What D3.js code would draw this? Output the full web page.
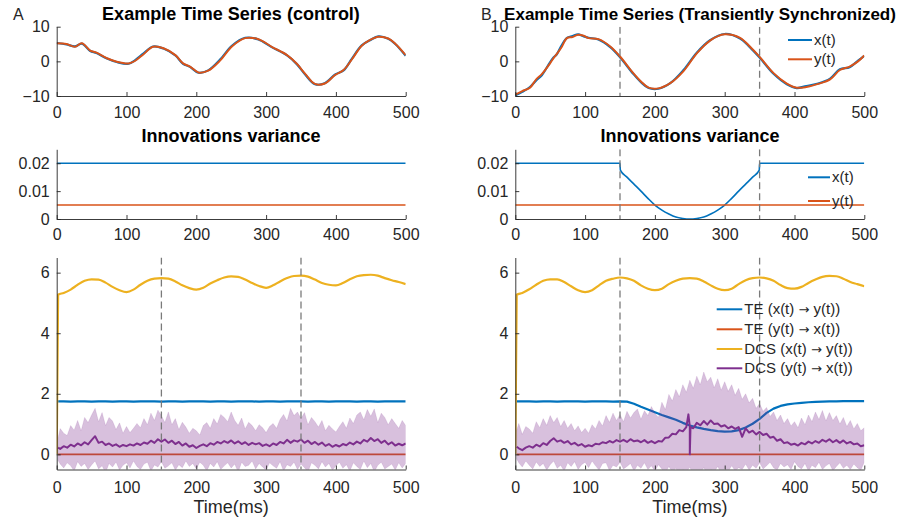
<!DOCTYPE html>
<html>
<head>
<meta charset="utf-8">
<script src="https://cdn.jsdelivr.net/npm/d3@7"></script>
<style>
body { margin: 0; background: #fff; }
</style>
</head>
<body>
<div id="container"></div>
<script>
// ---------- data ----------
var tickT = [0, 100, 200, 300, 400, 500];
var markT = [150, 350];          // start / end of the transient window
var colors = ['#0072BD', '#D95319', '#EDB120', '#7E2F8E'];

// A: example time series (control)
var tA = [0,14,26,36,48,57,72,86,103,112,124,138,153,170,181,191,203,217,234,251,270,289,308,330,344,356,370,384,399,411,423,437,449,461,475,485,500];
var xA = [5.3,4.9,4.3,5.1,3.0,2.4,0.8,-0.2,-0.7,0.3,2.2,4.3,3.7,1.7,-0.7,-1.6,-3.3,-2.6,0.5,4.5,6.8,6.3,4.1,1.7,-0.8,-3.8,-6.6,-6.3,-3.8,-2.6,0.8,4.6,6.1,7.2,6.5,5.0,1.6];
var yA = [5.2,5.0,4.2,5.2,3.1,2.5,0.9,-0.1,-0.6,0.1,2.0,4.2,3.8,1.8,-0.6,-1.5,-3.2,-2.7,0.2,4.3,6.7,6.4,4.2,1.8,-0.7,-3.6,-6.5,-6.4,-3.9,-2.5,0.6,4.5,6.2,7.1,6.6,5.1,1.8];

// B: example time series (transiently synchronized)
var tB = [0,10,21,30,38,50,55,59,66,74,82,90,98,105,119,136,150,169,180,191,205,222,241,260,279,300,322,336,350,370,389,403,417,434,451,465,479,491,500];
var xB = [-9.8,-8.8,-7.4,-5.5,-4.0,-0.2,1.2,1.9,4.5,6.8,7.3,7.8,7.2,6.8,6.3,4.1,1.2,-3.6,-6.0,-7.7,-7.9,-6.3,-2.5,2.5,6.1,7.9,6.6,4.1,1.1,-3.6,-6.6,-7.7,-7.1,-6.4,-5.0,-2.3,-1.7,0.2,1.6];
var yB = [-9.6,-8.6,-7.6,-5.2,-3.7,-0.5,1.0,2.0,4.0,6.7,7.0,7.7,7.4,6.7,6.4,4.3,1.4,-3.4,-5.8,-7.6,-7.8,-6.3,-2.8,2.3,6.0,7.8,6.8,4.3,1.3,-3.4,-6.4,-7.6,-7.4,-6.5,-5.2,-2.5,-1.5,0.0,1.7];

// innovations variance
var tVar = [0, 500];
var varXA = [0.02, 0.02];
var varY = [0.005, 0.005];
var tVarB = [0,150,150.5,160,170,180,190,200,210,220,230,240,250,260,270,280,290,300,310,320,330,340,349.5,350,500];
var varXB = [0.02,0.02,0.0175,0.0150,0.0125,0.0100,0.0074,0.0050,0.0032,0.0018,0.0007,0.0002,0,0.0002,0.0007,0.0018,0.0032,0.0050,0.0074,0.0100,0.0125,0.0150,0.0175,0.02,0.02];

// causality measures
var t10 = [2].concat(d3.range(10, 501, 10));
var tDcs = [0].concat(t10);
var t5 = [2].concat(d3.range(5, 501, 5));
var tTE0 = [2, 500];
var teYX = [0, 0];

var teXYA = [1.75,1.75,1.74,1.75,1.75,1.74,1.75,1.75,1.74,1.75,1.75,1.74,1.75,1.75,1.75,1.74,1.75,1.75,1.74,1.75,1.75,1.75,1.74,1.75,1.75,1.74,1.75,1.75,1.75,1.74,1.75,1.75,1.74,1.75,1.75,1.75,1.74,1.75,1.75,1.74,1.75,1.75,1.75,1.74,1.75,1.75,1.74,1.75,1.75,1.75,1.75];
var teXYB = [1.75,1.75,1.75,1.74,1.75,1.75,1.74,1.75,1.75,1.75,1.74,1.75,1.75,1.75,1.74,1.75,1.74,1.67,1.57,1.48,1.39,1.30,1.22,1.14,1.04,0.95,0.89,0.84,0.80,0.77,0.75,0.76,0.80,0.89,1.01,1.17,1.37,1.51,1.60,1.65,1.68,1.70,1.72,1.73,1.74,1.75,1.75,1.76,1.76,1.76,1.76];

var dcsXYA = [0,5.27,5.33,5.44,5.60,5.73,5.78,5.77,5.67,5.53,5.42,5.36,5.44,5.60,5.73,5.80,5.82,5.80,5.71,5.58,5.49,5.44,5.50,5.64,5.75,5.84,5.88,5.86,5.77,5.66,5.56,5.50,5.58,5.71,5.82,5.89,5.90,5.87,5.77,5.66,5.60,5.58,5.66,5.78,5.88,5.92,5.93,5.90,5.82,5.75,5.69,5.62];
var dcsXYB = [0,5.27,5.33,5.45,5.60,5.73,5.78,5.78,5.69,5.55,5.42,5.36,5.42,5.58,5.73,5.80,5.84,5.81,5.73,5.58,5.47,5.42,5.47,5.62,5.73,5.80,5.82,5.80,5.71,5.58,5.47,5.42,5.47,5.62,5.75,5.82,5.84,5.81,5.73,5.59,5.49,5.47,5.53,5.66,5.77,5.86,5.89,5.88,5.80,5.69,5.62,5.55];

var dcsYXA = [0.22,0.18,0.27,0.22,0.32,0.26,0.36,0.30,0.40,0.33,
  0.47,0.60,0.38,0.42,0.31,0.36,0.28,0.33,0.25,0.31,
  0.27,0.33,0.29,0.36,0.31,0.39,0.35,0.45,0.38,0.50,
  0.42,0.49,0.38,0.45,0.34,0.41,0.29,0.36,0.25,0.30,
  0.21,0.28,0.33,0.27,0.37,0.32,0.41,0.36,0.44,0.38,
  0.46,0.36,0.43,0.34,0.40,0.31,0.38,0.33,0.37,0.28,
  0.33,0.27,0.36,0.31,0.41,0.36,0.48,0.38,0.46,0.42,
  0.49,0.38,0.45,0.34,0.41,0.32,0.39,0.28,0.34,0.25,
  0.31,0.26,0.34,0.30,0.39,0.33,0.42,0.36,0.48,0.42,
  0.54,0.44,0.50,0.38,0.45,0.33,0.40,0.29,0.35,0.30,
  0.36];
var bandHiA = [0.55,0.85,0.70,0.62,0.95,0.80,1.12,0.78,1.22,1.05,
  1.30,1.52,1.08,1.38,0.95,1.22,1.10,0.82,1.04,0.70,
  0.92,0.72,0.86,1.02,0.88,1.18,0.98,1.36,1.12,1.46,
  1.28,1.05,1.40,0.98,1.18,0.82,1.06,0.90,0.70,0.86,
  0.78,0.64,0.95,1.05,0.86,1.18,1.00,1.32,1.22,1.08,
  1.40,1.12,0.96,1.20,0.84,1.06,0.95,0.78,0.98,0.88,
  0.72,0.92,1.02,0.86,1.15,1.32,1.10,1.52,1.28,1.40,
  1.18,1.38,0.98,1.22,1.08,0.90,1.12,0.78,0.96,0.84,
  0.74,0.92,1.08,0.86,1.20,1.02,1.30,1.40,1.14,1.48,
  1.26,1.50,1.05,1.36,1.22,0.98,1.18,1.02,0.86,1.12,
  0.95];
var bandLoA = [-0.20,-0.32,-0.45,-0.28,-0.38,-0.55,-0.24,-0.40,-0.30,-0.50,
  -0.35,-0.22,-0.48,-0.38,-0.60,-0.30,-0.42,-0.25,-0.52,-0.36,
  -0.28,-0.45,-0.22,-0.40,-0.50,-0.32,-0.26,-0.55,-0.35,-0.42,
  -0.24,-0.46,-0.38,-0.28,-0.52,-0.34,-0.44,-0.22,-0.40,-0.30,
  -0.48,-0.26,-0.36,-0.55,-0.30,-0.42,-0.24,-0.50,-0.38,-0.28,
  -0.45,-0.32,-0.58,-0.26,-0.40,-0.36,-0.22,-0.48,-0.30,-0.42,
  -0.52,-0.28,-0.38,-0.46,-0.24,-0.55,-0.34,-0.40,-0.26,-0.50,
  -0.32,-0.44,-0.58,-0.28,-0.36,-0.48,-0.24,-0.42,-0.30,-0.52,
  -0.38,-0.26,-0.46,-0.34,-0.55,-0.28,-0.40,-0.50,-0.22,-0.44,
  -0.30,-0.58,-0.36,-0.26,-0.48,-0.40,-0.32,-0.52,-0.28,-0.45,
  -0.30];

var dcsYXB = [0.25,0.20,0.14,0.22,0.27,0.22,0.32,0.26,0.37,0.31,
  0.44,0.53,0.42,0.46,0.38,0.44,0.33,0.38,0.29,0.34,
  0.25,0.30,0.27,0.35,0.33,0.40,0.37,0.44,0.39,0.47,
  0.42,0.48,0.41,0.50,0.43,0.46,0.40,0.47,0.38,0.44,
  0.37,0.44,0.42,0.55,0.56,0.68,0.66,0.80,0.76,0.90,
  0.92,0.86,1.04,0.96,1.10,0.98,1.12,1.00,1.02,0.92,
  0.96,0.86,0.92,0.84,0.90,0.58,0.86,0.72,0.78,0.66,
  0.74,0.64,0.68,0.55,0.58,0.45,0.50,0.37,0.40,0.32,
  0.35,0.29,0.38,0.33,0.42,0.36,0.44,0.38,0.48,0.42,
  0.50,0.40,0.47,0.38,0.46,0.36,0.41,0.33,0.36,0.27,
  0.30];
var dcsYXBspike = [[248, 1.32], [250, 0.0], [251, 0.9]];
var bandHiB = [0.80,1.02,0.66,0.92,0.84,0.70,1.08,0.88,1.18,0.96,
  1.28,1.05,1.22,0.92,1.12,0.86,1.02,0.78,0.94,0.72,
  0.86,0.70,0.98,0.84,1.12,0.94,1.28,1.06,1.36,1.12,
  1.32,1.08,1.42,1.20,1.38,1.50,1.16,1.44,1.28,1.58,
  1.36,1.22,1.72,1.48,1.98,1.76,2.14,1.90,2.30,2.05,
  2.45,2.18,2.58,2.30,2.72,2.40,2.55,2.20,2.50,2.12,
  2.40,2.08,2.30,1.95,2.18,1.82,2.00,1.70,1.85,1.52,
  1.68,1.42,1.55,1.25,1.40,1.12,1.30,1.02,1.18,0.94,
  1.08,0.88,1.20,0.98,1.30,1.08,1.40,1.15,1.45,1.10,
  1.38,1.12,1.28,1.00,1.22,0.92,1.12,0.84,1.02,0.78,
  0.88];
var bandLoB = [-0.15,-0.28,-0.42,-0.22,-0.36,-0.48,-0.25,-0.40,-0.30,-0.52,
  -0.34,-0.22,-0.46,-0.36,-0.55,-0.28,-0.40,-0.24,-0.50,-0.34,
  -0.26,-0.44,-0.22,-0.38,-0.52,-0.30,-0.28,-0.54,-0.36,-0.42,
  -0.26,-0.48,-0.40,-0.30,-0.55,-0.36,-0.46,-0.28,-0.50,-0.38,
  -0.56,-0.34,-0.48,-0.62,-0.40,-0.58,-0.45,-0.66,-0.50,-0.60,
  -0.42,-0.68,-0.52,-0.60,-0.44,-0.64,-0.50,-0.58,-0.40,-0.62,
  -0.46,-0.56,-0.38,-0.54,-0.44,-0.50,-0.32,-0.52,-0.36,-0.46,
  -0.28,-0.48,-0.38,-0.26,-0.44,-0.52,-0.30,-0.42,-0.34,-0.50,
  -0.24,-0.40,-0.48,-0.30,-0.55,-0.36,-0.44,-0.26,-0.50,-0.38,
  -0.30,-0.54,-0.40,-0.28,-0.46,-0.36,-0.50,-0.32,-0.44,-0.52,
  -0.26];

var legendXY = ['x(t)', 'y(t)'];
// each causality label as [source, target] pair, joined by an arrow
var legendCaus = [['TE (x(t)', 'y(t))'], ['TE (y(t)', 'x(t))'], ['DCS (x(t)', 'y(t))'], ['DCS (y(t)', 'x(t))']];

// ---------- drawing ----------
var width = 904,
    height = 521,
    font = '"Liberation Sans", Arial, Helvetica, sans-serif',
    axisColor = '#262626';

var svg = d3.select('div#container')
    .append('svg')
    .attr('width', width)
    .attr('height', height)
    .style('font-family', font);

var cols = [[56.7, 405.7], [515.3, 864.3]];
var rows = [[26.7, 96], [149.3, 219], [257.5, 469.5]];
var clipId = 0;

function makePanel(col, row, yDomain) {
    var x = d3.scaleLinear().domain([0, 500]).range(cols[col]);
    var y = d3.scaleLinear().domain(yDomain).range([rows[row][1], rows[row][0]]);
    var id = 'clip' + (clipId++);
    svg.append('clipPath').attr('id', id).append('rect')
        .attr('x', cols[col][0]).attr('y', rows[row][0])
        .attr('width', cols[col][1] - cols[col][0])
        .attr('height', rows[row][1] - rows[row][0]);
    var g = svg.append('g').attr('clip-path', 'url(#' + id + ')');
    return { x: x, y: y, g: g, col: col, row: row };
}

function drawLine(p, t, v, color, w, curve) {
    var line = d3.line()
        .x(function(d) { return p.x(d[0]); })
        .y(function(d) { return p.y(d[1]); })
        .curve(curve || d3.curveLinear);
    p.g.append('path')
        .datum(d3.zip(t, v))
        .attr('d', line)
        .attr('fill', 'none')
        .attr('stroke', color)
        .attr('stroke-width', w)
        .attr('stroke-linejoin', 'round');
}

function drawBand(p, t, lo, hi) {
    var area = d3.area()
        .x(function(d) { return p.x(d[0]); })
        .y0(function(d) { return p.y(d[1]); })
        .y1(function(d) { return p.y(d[2]); });
    p.g.append('path')
        .datum(d3.zip(t, lo, hi))
        .attr('d', area)
        .attr('fill', colors[3])
        .attr('fill-opacity', 0.3)
        .attr('stroke', colors[3])
        .attr('stroke-opacity', 0.2)
        .attr('stroke-width', 0.6);
}

function drawMarks(p) {
    p.g.selectAll('line.mark')
        .data(markT)
        .enter().append('line')
        .attr('x1', function(d) { return p.x(d); })
        .attr('x2', function(d) { return p.x(d); })
        .attr('y1', rows[p.row][0])
        .attr('y2', rows[p.row][1])
        .attr('stroke', '#7a7a7a')
        .attr('stroke-width', 1.3)
        .attr('stroke-dasharray', '7,4');
}

function drawAxes(p, yTicks, yFmt, xPad) {
    var gx = svg.append('g')
        .attr('transform', 'translate(0,' + rows[p.row][1] + ')')
        .call(d3.axisBottom(p.x).tickValues(tickT).tickSizeInner(-4).tickSizeOuter(0).tickPadding(xPad));
    var gy = svg.append('g')
        .attr('transform', 'translate(' + cols[p.col][0] + ',0)')
        .call(d3.axisLeft(p.y).tickValues(yTicks).tickFormat(yFmt).tickSizeInner(-4).tickSizeOuter(0).tickPadding(7));
    [gx, gy].forEach(function(a) {
        a.attr('font-family', font).attr('font-size', 16);
        a.selectAll('path, line').attr('stroke', axisColor).attr('stroke-width', 0.9);
        a.selectAll('text').attr('fill', axisColor);
    });
}

function drawLegend(x0, x1, ys, labels, cs) {
    var g = svg.append('g').attr('font-size', 15).attr('fill', axisColor);
    labels.forEach(function(lab, i) {
        g.append('line')
            .attr('x1', x0).attr('x2', x1)
            .attr('y1', ys[i]).attr('y2', ys[i])
            .attr('stroke', cs[i]).attr('stroke-width', 2);
        var txt = g.append('text')
            .attr('x', x1 + 2).attr('y', ys[i] + 5);
        if (typeof lab === 'string') {
            txt.text(lab);
        } else {
            txt.append('tspan').text(lab[0] + ' ');
            txt.append('tspan').attr('font-family', '"DejaVu Sans", sans-serif')
                .attr('font-size', 13).text('\u2192');
            txt.append('tspan').text(' ' + lab[1]);
        }
    });
}

function title(x, y, txt, size) {
    svg.append('text')
        .attr('x', x).attr('y', y)
        .attr('text-anchor', 'middle')
        .attr('font-size', size || 18)
        .attr('font-weight', 'bold')
        .attr('fill', '#000')
        .text(txt);
}

var smooth = d3.curveCatmullRom.alpha(0.5);
var fmtInt = d3.format('d');
var fmtVar = function(d) { return d === 0 ? '0' : d3.format('.2f')(d); };

// --- row 1: time series ---
var pA = makePanel(0, 0, [-10, 10]);
drawLine(pA, tA, xA, colors[0], 2.2, smooth);
drawLine(pA, tA, yA, colors[1], 2, smooth);
drawAxes(pA, [-10, 0, 10], fmtInt, 10.5);

var pB = makePanel(1, 0, [-10, 10]);
drawLine(pB, tB, xB, colors[0], 2.2, smooth);
drawLine(pB, tB, yB, colors[1], 2, smooth);
drawMarks(pB);
drawAxes(pB, [-10, 0, 10], fmtInt, 10.5);
drawLegend(788, 812, [40, 59.3], legendXY, colors);

// --- row 2: innovations variance ---
var pC = makePanel(0, 1, [0, 0.025]);
drawLine(pC, tVar, varXA, colors[0], 1.6);
drawLine(pC, tVar, varY, colors[1], 1.6);
drawAxes(pC, [0, 0.01, 0.02], fmtVar, 10);

var pD = makePanel(1, 1, [0, 0.025]);
drawLine(pD, tVarB, varXB, colors[0], 1.6, d3.curveMonotoneX);
drawLine(pD, tVar, varY, colors[1], 1.6);
drawMarks(pD);
drawAxes(pD, [0, 0.01, 0.02], fmtVar, 10);
drawLegend(808, 830, [177.3, 201], legendXY, colors);

// --- row 3: TE and DCS ---
function causPanel(col, teXY, dcsXY, dcsYX, lo, hi, spike) {
    var p = makePanel(col, 2, [-0.5, 6.5]);
    drawLine(p, t10, teXY, colors[0], 2.2);
    drawLine(p, tTE0, teYX, colors[1], 1.6);
    drawLine(p, tDcs, dcsXY, colors[2], 2.2, d3.curveMonotoneX);
    drawBand(p, t5, lo, hi);
    var pts = d3.zip(t5, dcsYX).concat(spike || []).sort(function(a, b) { return a[0] - b[0]; });
    drawLine(p, pts.map(function(d) { return d[0]; }), pts.map(function(d) { return d[1]; }), colors[3], 2);
    drawMarks(p);
    drawAxes(p, [0, 2, 4, 6], fmtInt, 12);
    svg.append('text')
        .attr('x', (cols[col][0] + cols[col][1]) / 2)
        .attr('y', 513)
        .attr('text-anchor', 'middle')
        .attr('font-size', 18)
        .attr('fill', axisColor)
        .text('Time(ms)');
    return p;
}
causPanel(0, teXYA, dcsXYA, dcsYXA, bandLoA, bandHiA);
causPanel(1, teXYB, dcsXYB, dcsYXB, bandLoB, bandHiB, dcsYXBspike);
drawLegend(716.7, 742.3, [309.3, 329.3, 349, 368.3], legendCaus, colors);

// --- titles and panel letters ---
title(231, 20, 'Example Time Series (control)');
title(700, 20, 'Example Time Series (Transiently Synchronized)', 17);
title(231, 141.5, 'Innovations variance');
title(690, 141.5, 'Innovations variance');

svg.append('text').attr('x', 13).attr('y', 20).attr('font-size', 16).attr('fill', axisColor).text('A');
svg.append('text').attr('x', 481).attr('y', 20).attr('font-size', 16).attr('fill', axisColor).text('B');
</script>
</body>
</html>
